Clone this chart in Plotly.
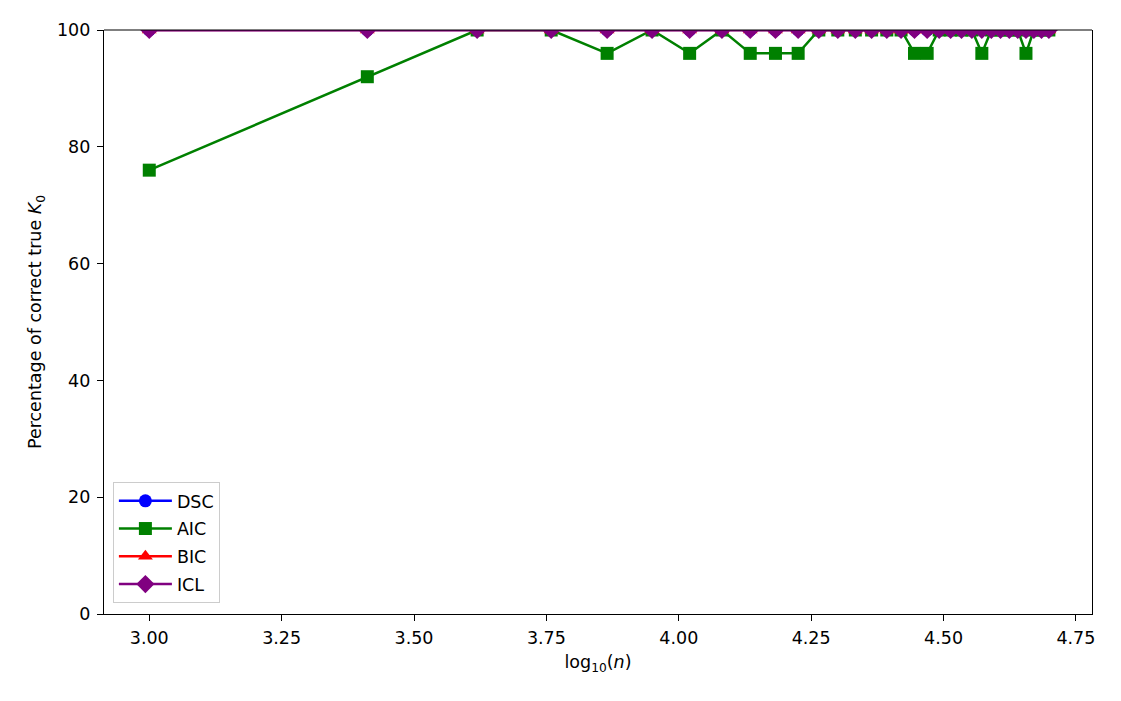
import numpy as np
import plotly.graph_objects as go

# sample sizes n (x axis is log10(n))
n_values = [1000, 2581, 4161, 5742, 7323, 8903, 10484, 12065, 13645, 15226,
            16806, 18387, 19968, 21548, 23129, 24710, 26290, 27871, 29452, 31032,
            32613, 34194, 35774, 37355, 38935, 40516, 42097, 43677, 45258, 46839,
            48419, 50000]

dsc = [100] * 32
aic = [76, 92, 100, 100, 96, 100, 96, 100, 96, 96,
       96, 100, 100, 100, 100, 100, 100, 96, 96, 100,
       100, 100, 100, 96, 100, 100, 100, 100, 96, 100,
       100, 100]
bic = [100] * 32
icl = [100] * 32

x = np.log10(np.array(n_values, dtype=float))

series = [
    ("DSC", dsc, "blue", "circle", 13),
    ("AIC", aic, "green", "square", 13),
    ("BIC", bic, "red", "triangle-up", 13),
    ("ICL", icl, "purple", "diamond", 14),
]

fig = go.Figure()
for i, (name, vals, color, sym, sz) in enumerate(series):
    fig.add_trace(go.Scatter(
        x=x, y=vals, name=name, mode="lines+markers",
        line=dict(color=color, width=2.5),
        marker=dict(color=color, symbol=sym, size=sz),
        legendgroup=f"g{i}",
    ))

# matplotlib clips markers at the axes edge: hide the part above y=100
fig.add_shape(type="rect", xref="paper", yref="paper", x0=-0.002, x1=1.002,
              y0=1.0, y1=1.04, fillcolor="white", line=dict(width=0), layer="above")
fig.add_shape(type="line", xref="paper", yref="paper", x0=0, x1=1, y0=1, y1=1,
              line=dict(color="black", width=1.2), layer="above")

font = "DejaVu Sans"
fig.update_layout(
    width=1113, height=693,
    margin=dict(l=96, r=29, t=20, b=87),
    plot_bgcolor="white", paper_bgcolor="white",
    font=dict(family=font, size=17.5, color="black"),
    showlegend=True,
    legend=dict(
        x=0.009, y=0.019, xanchor="left", yanchor="bottom",
        bordercolor="#cccccc", borderwidth=1, bgcolor="rgba(255,255,255,0.8)",
        font=dict(size=17.5), tracegroupgap=2, itemwidth=53,
    ),
)
fig.update_xaxes(
    range=[2.9145, 4.7804], tickvals=[3.0, 3.25, 3.5, 3.75, 4.0, 4.25, 4.5, 4.75],
    tickformat=".2f", showgrid=False, zeroline=False,
    showline=True, linecolor="black", linewidth=1.2, mirror=True,
    ticks="outside", ticklen=6, tickcolor="black", ticklabelstandoff=2,
    title=dict(text="log<sub>10</sub>(<i>n</i>)", font=dict(size=17.5), standoff=8),
)
fig.update_yaxes(
    range=[0, 100], tickvals=[0, 20, 40, 60, 80, 100],
    showgrid=False, zeroline=False,
    showline=True, linecolor="black", linewidth=1.2, mirror=True,
    ticks="outside", ticklen=6, tickcolor="black", ticklabelstandoff=3,
    title=dict(text="Percentage of correct true <i>K</i><sub>0</sub>", font=dict(size=17.5), standoff=10),
)

fig.write_html("out.html")
